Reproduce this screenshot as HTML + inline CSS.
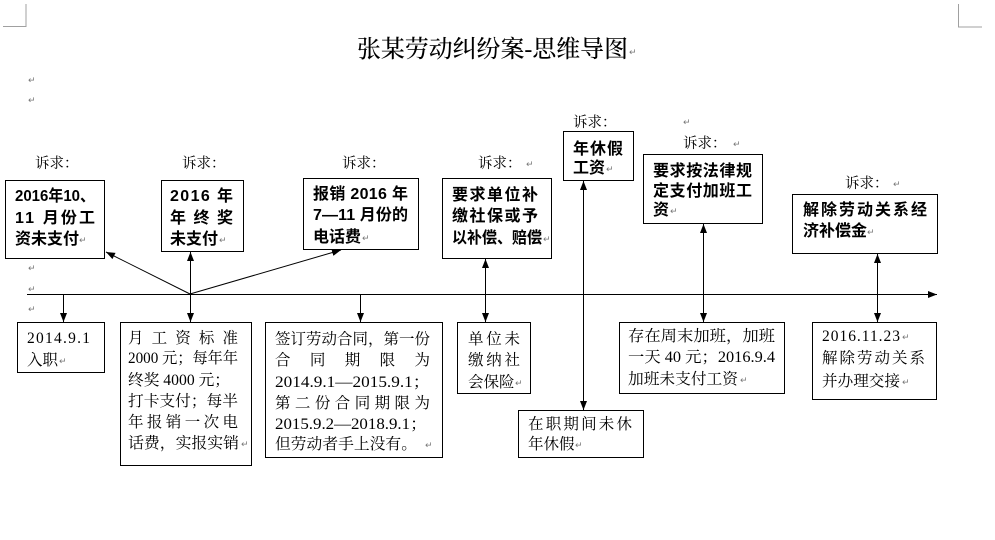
<!DOCTYPE html>
<html><head><meta charset="utf-8"><style>
html,body{margin:0;padding:0;background:#fff;}
svg{display:block;}
.b{font-family:"Liberation Sans","Noto Sans CJK SC",sans-serif;font-weight:bold;font-size:16px;fill:#000;}
.r{font-family:"Liberation Serif","Noto Serif CJK SC",serif;font-size:15.5px;fill:#000;}
.l{font-family:"Noto Serif CJK SC",serif;font-size:14.5px;fill:#000;}
.t{font-family:"Liberation Serif","Noto Serif CJK SC",serif;font-size:24px;font-weight:500;fill:#000;}
.p{font-family:"DejaVu Sans",sans-serif;font-size:9px;fill:#777;}
</style></head><body>
<svg width="995" height="540" viewBox="0 0 995 540" xmlns="http://www.w3.org/2000/svg">
<defs>
<marker id="a" viewBox="0 0 10 10" refX="10" refY="5" markerWidth="9" markerHeight="7" markerUnits="userSpaceOnUse" orient="auto-start-reverse" preserveAspectRatio="none"><path d="M0,0 L10,5 L0,10 z" fill="#000"/></marker>
</defs>
<rect width="995" height="540" fill="#fff"/>
<!-- corner marks -->
<polyline points="26,4 26,26.5 3,26.5" fill="none" stroke="#a0a0a0" stroke-width="1"/>
<polyline points="958.5,4 958.5,27 982,27" fill="none" stroke="#a0a0a0" stroke-width="1"/>

<!-- title -->
<text class="t" x="357" y="57" textLength="271" lengthAdjust="spacingAndGlyphs">张某劳动纠纷案-思维导图</text>
<text class="p" x="629" y="55">↵</text>

<!-- left paragraph marks -->
<text class="p" x="28" y="83">↵</text>
<text class="p" x="28" y="103">↵</text>
<text class="p" x="28" y="271">↵</text>
<text class="p" x="28" y="292">↵</text>
<text class="p" x="28" y="312">↵</text>

<!-- main timeline -->
<line x1="27" y1="294.5" x2="937" y2="294.5" stroke="#000" stroke-width="1" marker-end="url(#a)"/>

<!-- connectors -->
<line x1="190" y1="294" x2="106" y2="252" stroke="#000" stroke-width="1" marker-end="url(#a)"/>
<line x1="190.5" y1="294" x2="190.5" y2="252" stroke="#000" stroke-width="1" marker-end="url(#a)"/>
<line x1="190" y1="294" x2="341" y2="250" stroke="#000" stroke-width="1" marker-end="url(#a)"/>
<line x1="190.5" y1="294" x2="190.5" y2="322" stroke="#000" stroke-width="1" marker-end="url(#a)"/>
<line x1="63.5" y1="294" x2="63.5" y2="322" stroke="#000" stroke-width="1" marker-end="url(#a)"/>
<line x1="360.5" y1="294" x2="360.5" y2="322" stroke="#000" stroke-width="1" marker-end="url(#a)"/>
<line x1="485.5" y1="259" x2="485.5" y2="322" stroke="#000" stroke-width="1" marker-start="url(#a)" marker-end="url(#a)"/>
<line x1="583.5" y1="181" x2="583.5" y2="410" stroke="#000" stroke-width="1" marker-start="url(#a)" marker-end="url(#a)"/>
<line x1="703.5" y1="224" x2="703.5" y2="322" stroke="#000" stroke-width="1" marker-start="url(#a)" marker-end="url(#a)"/>
<line x1="877.5" y1="254" x2="877.5" y2="322" stroke="#000" stroke-width="1" marker-start="url(#a)" marker-end="url(#a)"/>

<!-- top boxes -->
<g fill="none" stroke="#000" stroke-width="1">
<rect x="5.5" y="180.5" width="99" height="78"/>
<rect x="161.5" y="180.5" width="82" height="71"/>
<rect x="303.5" y="178.5" width="115" height="71"/>
<rect x="442.5" y="178.5" width="109" height="80"/>
<rect x="563.5" y="131.5" width="70" height="49"/>
<rect x="643.5" y="154.5" width="119" height="69"/>
<rect x="792.5" y="194.5" width="145" height="59"/>
<!-- bottom boxes -->
<rect x="17.5" y="322.5" width="87" height="50"/>
<rect x="120.5" y="322.5" width="131" height="143"/>
<rect x="265.5" y="322.5" width="177" height="135"/>
<rect x="457.5" y="322.5" width="73" height="71"/>
<rect x="518.5" y="410.5" width="125" height="47"/>
<rect x="619.5" y="322.5" width="165" height="71"/>
<rect x="812.5" y="322.5" width="124" height="77"/>
</g>

<!-- labels -->
<text class="l" x="35" y="168">诉求：</text>
<text class="l" x="182" y="168">诉求：</text>
<text class="l" x="342" y="168">诉求：</text>
<text class="l" x="478" y="168">诉求：</text><text class="p" x="526" y="167">↵</text>
<text class="l" x="573" y="127">诉求：</text>
<text class="p" x="683" y="125">↵</text>
<text class="l" x="683" y="148">诉求：</text><text class="p" x="733" y="147">↵</text>
<text class="l" x="845" y="188">诉求：</text><text class="p" x="893" y="187">↵</text>

<!-- box1 -->
<text class="b" x="15" y="201" textLength="80" lengthAdjust="spacingAndGlyphs">2016年10、</text>
<text class="b" x="15" y="223" textLength="80" lengthAdjust="spacing">11 月份工</text>
<text class="b" x="15" y="244">资未支付</text><text class="p" x="79" y="243">↵</text>
<!-- box2 -->
<text class="b" x="170" y="201" textLength="63" lengthAdjust="spacing">2016 年</text>
<text class="b" x="170" y="223" textLength="63" lengthAdjust="spacing">年 终 奖</text>
<text class="b" x="170" y="244">未支付</text><text class="p" x="219" y="243">↵</text>
<!-- box3 -->
<text class="b" x="313" y="199" textLength="95" lengthAdjust="spacing">报销 2016 年</text>
<text class="b" x="313" y="220" textLength="95" lengthAdjust="spacing">7—11 月份的</text>
<text class="b" x="313" y="242">电话费</text><text class="p" x="362" y="241">↵</text>
<!-- box4 -->
<text class="b" x="452" y="200" textLength="86" lengthAdjust="spacing">要求单位补</text>
<text class="b" x="452" y="221" textLength="86" lengthAdjust="spacing">缴社保或予</text>
<text class="b" x="452" y="243" textLength="90" lengthAdjust="spacingAndGlyphs">以补偿、赔偿</text><text class="p" x="543" y="242">↵</text>
<!-- box5 -->
<text class="b" x="573" y="154" textLength="50" lengthAdjust="spacing">年休假</text>
<text class="b" x="573" y="173">工资</text><text class="p" x="606" y="172">↵</text>
<!-- box6 -->
<text class="b" x="653" y="176" textLength="99" lengthAdjust="spacing">要求按法律规</text>
<text class="b" x="653" y="196" textLength="99" lengthAdjust="spacing">定支付加班工</text>
<text class="b" x="653" y="215">资</text><text class="p" x="670" y="214">↵</text>
<!-- box7 -->
<text class="b" x="803" y="215" textLength="124" lengthAdjust="spacing">解除劳动关系经</text>
<text class="b" x="803" y="236">济补偿金</text><text class="p" x="867" y="235">↵</text>

<!-- B1 -->
<text class="r" x="27" y="343" textLength="63" lengthAdjust="spacing">2014.9.1</text>
<text class="r" x="27" y="365">入职</text><text class="p" x="59" y="364">↵</text>
<!-- B2 -->
<text class="r" x="128" y="343" textLength="110" lengthAdjust="spacing">月 工 资 标 准</text>
<text class="r" x="128" y="363" textLength="110" lengthAdjust="spacingAndGlyphs">2000 元；每年年</text>
<text class="r" x="128" y="385" textLength="102" lengthAdjust="spacingAndGlyphs">终奖 4000 元；</text>
<text class="r" x="128" y="406" textLength="110" lengthAdjust="spacingAndGlyphs">打卡支付；每半</text>
<text class="r" x="128" y="427" textLength="110" lengthAdjust="spacing">年报销一次电</text>
<text class="r" x="128" y="448" textLength="111" lengthAdjust="spacingAndGlyphs">话费，实报实销</text><text class="p" x="241" y="447">↵</text>
<!-- B3 -->
<text class="r" x="275" y="344" textLength="155" lengthAdjust="spacingAndGlyphs">签订劳动合同，第一份</text>
<text class="r" x="275" y="365" textLength="155" lengthAdjust="spacing">合 同 期 限 为</text>
<text class="r" x="275" y="387" textLength="155" lengthAdjust="spacingAndGlyphs">2014.9.1—2015.9.1；</text>
<text class="r" x="275" y="408" textLength="155" lengthAdjust="spacing">第二份合同期限为</text>
<text class="r" x="275" y="429" textLength="152" lengthAdjust="spacingAndGlyphs">2015.9.2—2018.9.1；</text>
<text class="r" x="275" y="449" textLength="142" lengthAdjust="spacingAndGlyphs">但劳动者手上没有。</text><text class="p" x="425" y="448">↵</text>
<!-- B4 -->
<text class="r" x="468" y="344" textLength="52" lengthAdjust="spacing">单位未</text>
<text class="r" x="468" y="365" textLength="52" lengthAdjust="spacing">缴纳社</text>
<text class="r" x="468" y="387">会保险</text><text class="p" x="515" y="386">↵</text>
<!-- B5 -->
<text class="r" x="528" y="429" textLength="104" lengthAdjust="spacing">在职期间未休</text>
<text class="r" x="528" y="449">年休假</text><text class="p" x="575" y="448">↵</text>
<!-- B6 -->
<text class="r" x="628" y="341" textLength="147" lengthAdjust="spacingAndGlyphs">存在周末加班，加班</text>
<text class="r" x="628" y="362" textLength="147" lengthAdjust="spacingAndGlyphs">一天 40 元；2016.9.4</text>
<text class="r" x="628" y="384" textLength="110" lengthAdjust="spacingAndGlyphs">加班未支付工资</text><text class="p" x="740" y="383">↵</text>
<!-- B7 -->
<text class="r" x="822" y="341" textLength="78" lengthAdjust="spacing">2016.11.23</text><text class="p" x="902" y="340">↵</text>
<text class="r" x="822" y="363" textLength="103" lengthAdjust="spacing">解除劳动关系</text>
<text class="r" x="822" y="386" textLength="78" lengthAdjust="spacingAndGlyphs">并办理交接</text><text class="p" x="902" y="385">↵</text>
</svg>
</body></html>
